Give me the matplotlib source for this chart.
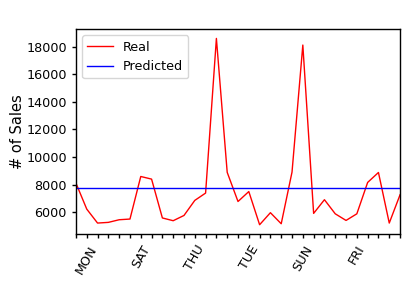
import matplotlib

matplotlib.use("Agg")

import matplotlib.pyplot as plt  # noqa: E402
from matplotlib.ticker import MultipleLocator  # noqa: E402

# daily sales, 31 days
real = [8120, 6240, 5230, 5280, 5470, 5520, 8600, 8410, 5600, 5400,
        5780, 6870, 7400, 18590, 8900, 6790, 7510, 5110, 5980, 5180,
        8920, 18110, 5930, 6920, 5900, 5420, 5900, 8170, 8890, 5230,
        7280]
predicted = [7750] * len(real)
day_labels = ["MON", "SAT", "THU", "TUE", "SUN", "FRI"]
label_every = 5
first_label = 1

plt.rcParams["font.size"] = 9.2
fig = plt.figure(figsize=(4.15, 2.97), dpi=100)
ax = fig.add_axes([0.183, 0.212, 0.781, 0.690])
x = list(range(len(real)))
ax.plot(x, real, color="red", linewidth=1.0, label="Real")
ax.plot(x, predicted, color="blue", linewidth=1.0, label="Predicted")
ax.set_xlim(0, len(real) - 1)
ax.set_xticks(x)
ticklabels = [""] * len(real)
for i, lab in enumerate(day_labels):
    ticklabels[first_label + i * label_every] = lab
ax.set_xticklabels(ticklabels, rotation=60)
ax.yaxis.set_major_locator(MultipleLocator(2000))
ax.set_ylabel("# of Sales", fontsize=10.5, labelpad=1)
for s in ax.spines.values():
    s.set_linewidth(1.0)
ax.tick_params(length=3, width=1.0)
ax.legend(loc="upper left")
fig.savefig("out.png")
plt.close(fig)
